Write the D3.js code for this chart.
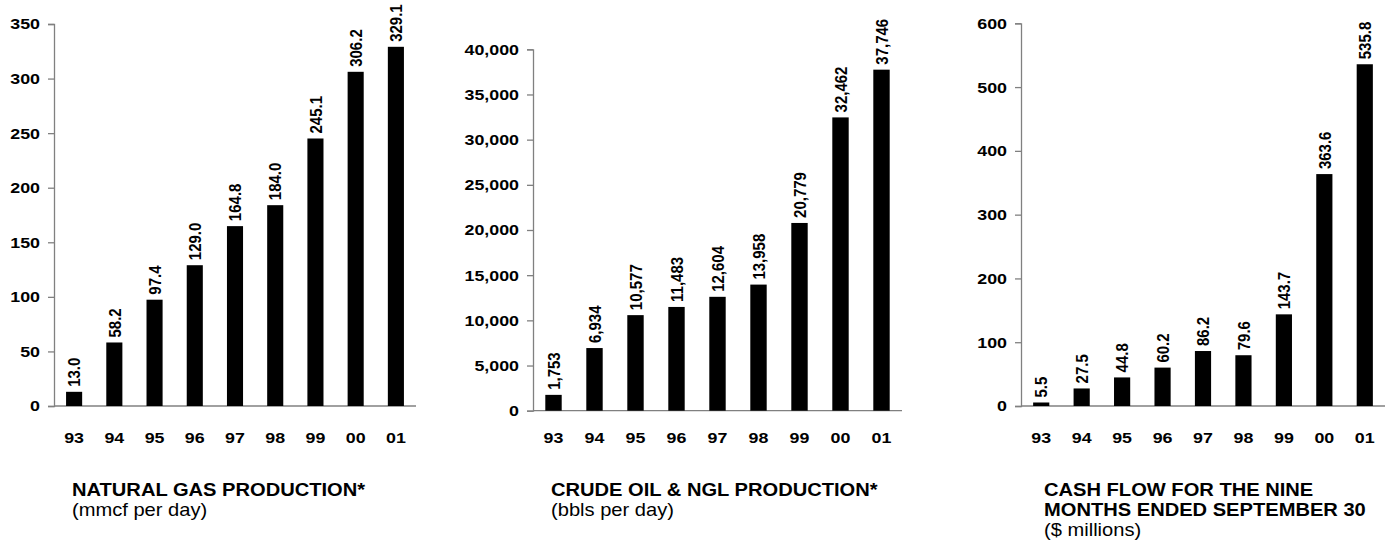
<!DOCTYPE html>
<html>
<head>
<meta charset="utf-8">
<script src="https://cdn.jsdelivr.net/npm/d3@7"></script>
<style>
  body { margin: 0; background: #fff; }
  text { font-family: "Liberation Sans", Arial, sans-serif; fill: #000; }
</style>
</head>
<body>
<div class="chart"></div>
<script>
// data
const years = ['93', '94', '95', '96', '97', '98', '99', '00', '01'];
const gasValues = [13.0, 58.2, 97.4, 129.0, 164.8, 184.0, 245.1, 306.2, 329.1];
const oilValues = [1753, 6934, 10577, 11483, 12604, 13958, 20779, 32462, 37746];
const cashValues = [5.5, 27.5, 44.8, 60.2, 86.2, 79.6, 143.7, 363.6, 535.8];
const gasTicks = [0, 50, 100, 150, 200, 250, 300, 350];
const oilTicks = [0, 5000, 10000, 15000, 20000, 25000, 30000, 35000, 40000];
const cashTicks = [0, 100, 200, 300, 400, 500, 600];
const gasTitle = ['NATURAL GAS PRODUCTION*'];
const oilTitle = ['CRUDE OIL & NGL PRODUCTION*'];
const cashTitle = ['CASH FLOW FOR THE NINE', 'MONTHS ENDED SEPTEMBER 30'];
const gasUnit = '(mmcf per day)';
const oilUnit = '(bbls per day)';
const cashUnit = '($ millions)';

const width = 1387;
const height = 550;
const SX = 1.15; // source picture is a bit stretched sideways

const svg = d3.select('.chart')
  .append('svg')
    .attr('width', width)
    .attr('height', height);

const panels = [
  { values: gasValues, ticks: gasTicks, fmt: d3.format('.1f'), tickFmt: d3.format(','),
    title: gasTitle, unit: gasUnit,
    left: 54, right: 416, top: 24, bottom: 406, titleX: 72 },
  { values: oilValues, ticks: oilTicks, fmt: d3.format(','), tickFmt: d3.format(','),
    title: oilTitle, unit: oilUnit,
    left: 533, right: 902, top: 49.3, bottom: 410.7, titleX: 551 },
  { values: cashValues, ticks: cashTicks, fmt: d3.format('.1f'), tickFmt: d3.format(','),
    title: cashTitle, unit: cashUnit,
    left: 1021, right: 1385, top: 23.3, bottom: 406, titleX: 1044 }
];

panels.forEach(drawPanel);

function drawPanel(p) {
  const g = svg.append('g');

  const x = d3.scaleBand()
    .domain(years)
    .range([p.left, p.right])
    .paddingInner(0.6)
    .paddingOuter(0.3);

  const y = d3.scaleLinear()
    .domain([p.ticks[0], p.ticks[p.ticks.length - 1]])
    .range([p.bottom, p.top]);

  // y axis
  const yAxis = g.append('g')
    .attr('transform', `translate(${p.left},0)`)
    .call(d3.axisLeft(y).tickValues(p.ticks).tickFormat(p.tickFmt).tickSize(6).tickPadding(8));
  yAxis.select('.domain').attr('stroke', '#808080').attr('stroke-width', 1.3);
  yAxis.selectAll('.tick line').attr('stroke', '#808080').attr('stroke-width', 1.3);
  yAxis.selectAll('.tick text')
    .attr('x', null)
    .attr('transform', `translate(-14,0) scale(${SX},1)`)
    .attr('font-size', 15.5)
    .attr('font-weight', 'bold')
    .attr('font-family', '"Liberation Sans", Arial, sans-serif')
    .attr('fill', '#000');

  // x baseline
  g.append('line')
    .attr('x1', p.left)
    .attr('x2', p.right)
    .attr('y1', y(0))
    .attr('y2', y(0))
    .attr('stroke', '#808080')
    .attr('stroke-width', 1.3);

  // bars
  g.selectAll('rect.bar')
    .data(p.values)
    .join('rect')
      .attr('class', 'bar')
      .attr('x', (d, i) => x(years[i]))
      .attr('y', d => y(d))
      .attr('width', x.bandwidth())
      .attr('height', d => y(0) - y(d))
      .attr('fill', '#000');

  // value labels
  g.selectAll('text.val')
    .data(p.values)
    .join('text')
      .attr('class', 'val')
      .attr('transform', (d, i) =>
        `translate(${x(years[i]) + x.bandwidth() / 2},${y(d) - 5}) scale(${SX},1) rotate(-90)`)
      .attr('dy', '0.36em')
      .attr('font-size', 15)
      .attr('font-weight', 'bold')
      .text(d => p.fmt(d));

  // year labels
  g.selectAll('text.year')
    .data(years)
    .join('text')
      .attr('class', 'year')
      .attr('transform', d => `translate(${x(d) + x.bandwidth() / 2},443) scale(${SX},1)`)
      .attr('text-anchor', 'middle')
      .attr('font-size', 15.5)
      .attr('font-weight', 'bold')
      .text(d => d);

  // title block
  const lines = p.title.concat([p.unit]);
  g.selectAll('text.title')
    .data(lines)
    .join('text')
      .attr('class', 'title')
      .attr('transform', (d, i) => `translate(${p.titleX},${496 + i * 20}) scale(${SX},1)`)
      .attr('font-size', 17.5)
      .attr('font-weight', (d, i) => i < p.title.length ? 'bold' : 'normal')
      .text(d => d);
}
</script>
</body>
</html>
